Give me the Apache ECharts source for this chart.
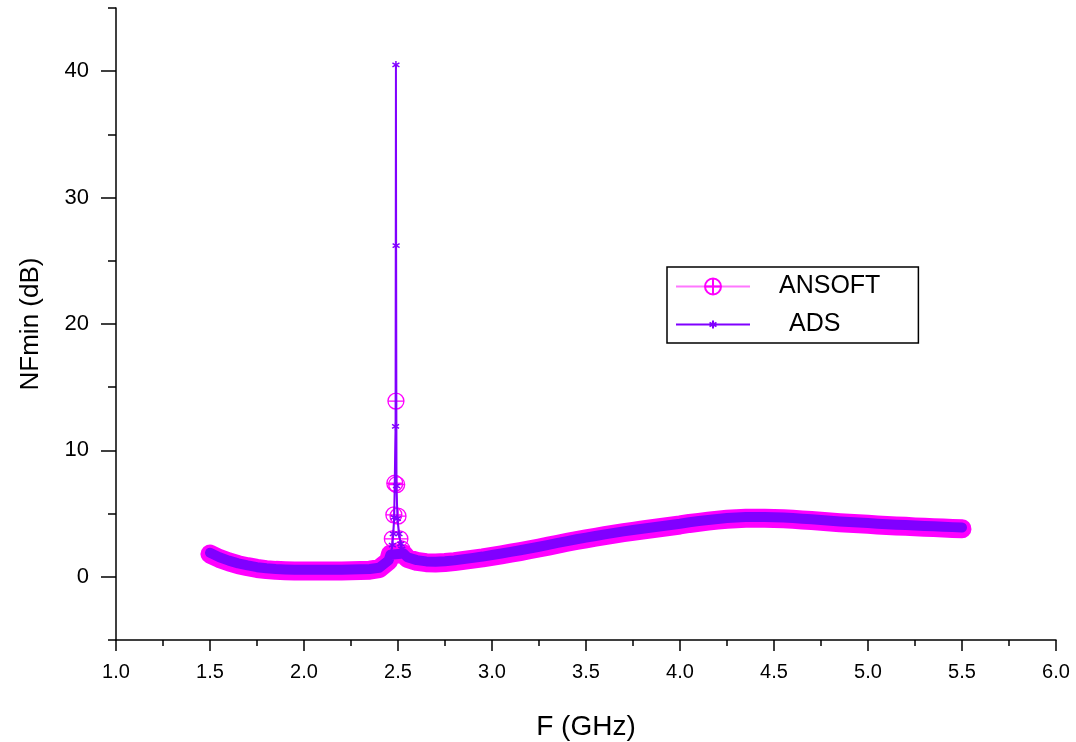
<!DOCTYPE html>
<html><head><meta charset="utf-8">
<script src="https://cdn.jsdelivr.net/npm/echarts@6/dist/echarts.min.js"></script>
<style>html,body{margin:0;padding:0;background:#fff}#c{width:1076px;height:742px}</style>
</head><body><div id="c"></div><script>
// Frequency grid (GHz) for the smooth part of both curves
const mainFreq = [1.50,1.55,1.60,1.65,1.70,1.75,1.80,1.85,1.90,1.95,2.00,2.05,2.10,2.15,2.20,2.25,2.30,2.35,2.40,2.45,2.46,
  2.53,2.55,2.60,2.65,2.70,2.75,2.80,2.85,2.90,2.95,3.00,3.05,3.10,3.15,3.20,3.25,3.30,3.35,3.40,3.45,3.50,3.55,3.60,3.65,3.70,3.75,3.80,3.85,3.90,3.95,
  4.00,4.05,4.10,4.15,4.20,4.25,4.30,4.35,4.40,4.45,4.50,4.55,4.60,4.65,4.70,4.75,4.80,4.85,4.90,4.95,5.00,5.05,5.10,5.15,5.20,5.25,5.30,5.35,5.40,5.45,5.50];
const ansoftMain = [1.8,1.45,1.18,0.96,0.8,0.66,0.57,0.51,0.48,0.46,0.45,0.45,0.45,0.45,0.46,0.47,0.49,0.52,0.64,1.25,1.8,
  1.8,1.45,1.22,1.12,1.1,1.13,1.2,1.3,1.4,1.5,1.62,1.74,1.87,2.0,2.14,2.28,2.43,2.58,2.73,2.87,3.0,3.13,3.26,3.38,3.49,3.6,3.7,3.8,3.9,4.0,
  4.1,4.22,4.31,4.4,4.48,4.55,4.6,4.63,4.64,4.64,4.62,4.59,4.55,4.5,4.45,4.4,4.34,4.28,4.23,4.19,4.15,4.1,4.06,4.02,3.99,3.95,3.92,3.89,3.86,3.83,3.8];
const adsMain = [1.9,1.55,1.28,1.06,0.9,0.76,0.67,0.61,0.58,0.56,0.55,0.55,0.55,0.55,0.56,0.57,0.59,0.62,0.72,1.3,1.75,
  1.85,1.55,1.32,1.22,1.2,1.23,1.3,1.4,1.5,1.6,1.72,1.84,1.97,2.1,2.24,2.38,2.53,2.68,2.83,2.97,3.1,3.23,3.36,3.48,3.59,3.7,3.8,3.9,4.0,4.1,
  4.2,4.32,4.41,4.5,4.58,4.65,4.7,4.73,4.74,4.74,4.72,4.69,4.65,4.6,4.55,4.5,4.44,4.38,4.33,4.29,4.25,4.2,4.16,4.12,4.09,4.05,4.02,3.99,3.96,3.93,3.9];
// Resonance region
const ansoftPeakFreq = [2.47,2.478,2.483,2.489,2.493,2.50,2.51,2.52];
const ansoftPeak = [3.0,4.9,7.4,13.9,7.3,4.8,3.0,2.2];
const adsPeakFreq = [2.47,2.475,2.48,2.487,2.489,2.490,2.492,2.497,2.505,2.515,2.52];
const adsPeak = [2.5,3.4,4.7,11.9,40.5,26.2,7.2,4.6,3.4,2.6,2.2];
// Axis ticks
const yMajorTicks = [0,10,20,30,40];
const seriesNames = ['ANSOFT','ADS'];

const FONT = 'Liberation Sans, Arial, sans-serif';
function pairs(xs, ys){ return xs.map((x,i)=>[x, ys[i]]); }
const ansoftBand = pairs(mainFreq, ansoftMain);
const adsBand = pairs(mainFreq, adsMain);
const ansoftAll = ansoftBand.concat(pairs(ansoftPeakFreq, ansoftPeak)).sort((a,b)=>a[0]-b[0]);
const adsAll = adsBand.concat(pairs(adsPeakFreq, adsPeak)).sort((a,b)=>a[0]-b[0]);

const circleCross = 'path://M-8,0A8,8,0,1,1,8,0A8,8,0,1,1,-8,0ZM-8,0L8,0M0,-8L0,8';
const asterisk = 'path://M-8,-8M8,8M0,-4L0,4M-3.5,-2L3.5,2M-3.5,2L3.5,-2';
const axisCol = {color:'#000', width:1.5};

const chart = echarts.init(document.getElementById('c'));
chart.setOption({
  animation:false,
  backgroundColor:'#fff',
  grid:{left:116, top:8, width:940, height:632, containLabel:false, outerBoundsMode:'none'},
  legend:{
    data:[{name:seriesNames[0], textStyle:{padding:[0,0,0,24]}},{name:seriesNames[1], textStyle:{padding:[0,0,0,34]}}],
    orient:'vertical', left:667, top:267, padding:[7,38,6,8],
    itemWidth:74, itemHeight:20, itemGap:13,
    borderColor:'#000', borderWidth:1.5, borderRadius:0,
    textStyle:{fontSize:25, color:'#000', fontFamily:FONT}
  },
  xAxis:{
    type:'value', min:1, max:6, interval:0.5,
    axisLine:{onZero:false, lineStyle:axisCol},
    axisTick:{length:11, lineStyle:axisCol},
    minorTick:{show:true, splitNumber:2, length:6, lineStyle:axisCol},
    splitLine:{show:false}, minorSplitLine:{show:false},
    axisLabel:{formatter:v=>v.toFixed(1), fontSize:20, color:'#000', margin:22, fontFamily:FONT},
    name:'F (GHz)', nameLocation:'middle', nameGap:73,
    nameTextStyle:{fontSize:28, color:'#000', fontFamily:FONT}
  },
  yAxis:[{
    type:'value', min:-5, max:45, interval:5,
    axisLine:{show:true, onZero:false, lineStyle:axisCol},
    axisTick:{show:true, length:8, lineStyle:axisCol},
    axisLabel:{show:false}, splitLine:{show:false},
    name:'NFmin (dB)', nameLocation:'middle', nameGap:72, nameRotate:90,
    nameTextStyle:{fontSize:26, color:'#000', fontFamily:FONT}
  },{
    type:'value', min:-5, max:45, position:'left', offset:0,
    axisLine:{show:false, onZero:false},
    axisTick:{show:true, length:15, customValues:yMajorTicks, lineStyle:axisCol},
    axisLabel:{customValues:yMajorTicks, fontSize:22, color:'#000', margin:27, fontFamily:FONT},
    splitLine:{show:false}
  }],
  series:[
    {name:'ANSOFT band', type:'line', data:ansoftBand, symbol:'none', silent:true, z:1,
     lineStyle:{color:'#ff00ff', width:19, cap:'round', join:'round'}},
    {name:seriesNames[0], type:'line', data:ansoftAll, symbol:circleCross, symbolSize:16, z:2,
     itemStyle:{color:'rgba(255,255,255,0)', borderColor:'#ff00ff', borderWidth:1.3},
     lineStyle:{color:'#ff77ff', width:1}},
    {name:'ADS band', type:'line', data:adsBand, symbol:'none', silent:true, z:3,
     lineStyle:{color:'#8000ff', width:10, cap:'round', join:'round'}},
    {name:seriesNames[1], type:'line', data:adsAll, symbol:asterisk, symbolSize:16, z:4,
     itemStyle:{color:'#8000ff', borderColor:'#8000ff', borderWidth:1.5},
     lineStyle:{color:'#8000ff', width:2}}
  ]
});
</script></body></html>
